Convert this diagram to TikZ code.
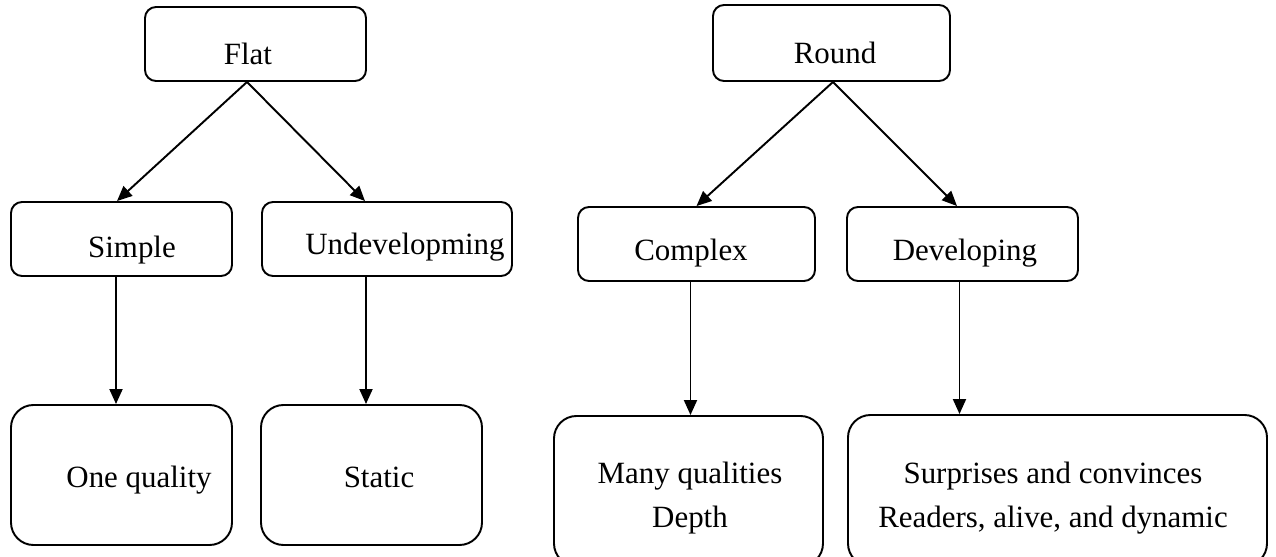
\documentclass[tikz,border=0pt]{standalone}
\usepackage{fontspec}
\setmainfont{Liberation Serif}
\usetikzlibrary{arrows.meta,calc,fit}
\tikzset{
  box/.style={draw, line width=1.1pt, rounded corners=0.22cm, inner sep=0pt},
  bigbox/.style={box, rounded corners=0.45cm},
  lbl/.style={font=\fontsize{17.6}{25}\selectfont, inner sep=0pt, anchor=base, align=center},
  arr/.style={-{Triangle[length=0.3cm,width=0.26cm]}, line width=1.1pt}
}
\begin{document}
\begin{tikzpicture}[x=0.02cm, y=-0.02cm]
\useasboundingbox (0,0) rectangle (1276,557);
\clip (0,0) rectangle (1276,557);
% top
\node[box, fit={(145,7) (366,81)}] (flat) {};
\node[lbl] (flatlbl) at (248,65) {Flat};
\node[box, fit={(713,5) (950,81)}] (round) {};
\node[lbl] (roundlbl) at (835,64) {Round};
% middle
\node[box, fit={(11,202) (232,276)}] (simple) {};
\node[lbl] (simplelbl) at (132,258) {Simple};
\node[box, fit={(262,202) (512,276)}] (undev) {};
\node[lbl] (undevlbl) at (405,255) {Undevelopming};
\node[box, fit={(578,207) (815,281)}] (complex) {};
\node[lbl] (complexlbl) at (691,261) {Complex};
\node[box, fit={(847,207) (1078,281)}] (develop) {};
\node[lbl] (developlbl) at (965,261) {Developing};
% bottom
\node[bigbox, fit={(11,405) (232,545)}] (one) {};
\node[lbl] (onelbl) at (139,488) {One quality};
\node[bigbox, fit={(261,405) (482,545)}] (static) {};
\node[lbl] (staticlbl) at (379,488) {Static};
\node[bigbox, fit={(554,416) (823,566)}] (many) {};
\node[lbl] (manylbl) at (690,527) {Many qualities\\Depth};
\node[bigbox, fit={(848,415) (1267,566)}] (surprise) {};
\node[lbl] (surpriselbl) at (1053,527) {Surprises and convinces\\Readers, alive, and dynamic};
% arrows
\draw[arr] ($(flat.south)+(-8.5,0)$) -- ($(simple.north)+(-4.5,0)$);
\draw[arr] ($(flat.south)+(-8.5,0)$) -- ($(undev.north)+(-22,0)$);
\draw[arr] ($(round.south)+(1.5,0)$) -- (complex.north);
\draw[arr] ($(round.south)+(1.5,0)$) -- ($(develop.north)+(-5.5,0)$);
\draw[arr] ($(simple.south)+(-5.5,0)$) coordinate (s1) -- (s1 |- one.north);
\draw[arr] ($(undev.south)+(-21,0)$) coordinate (s2) -- (s2 |- static.north);
\draw[arr] ($(complex.south)+(-6,0)$) coordinate (s3) -- (s3 |- many.north);
\draw[arr] ($(develop.south)+(-3,0)$) coordinate (s4) -- (s4 |- surprise.north);
\end{tikzpicture}
\end{document}
